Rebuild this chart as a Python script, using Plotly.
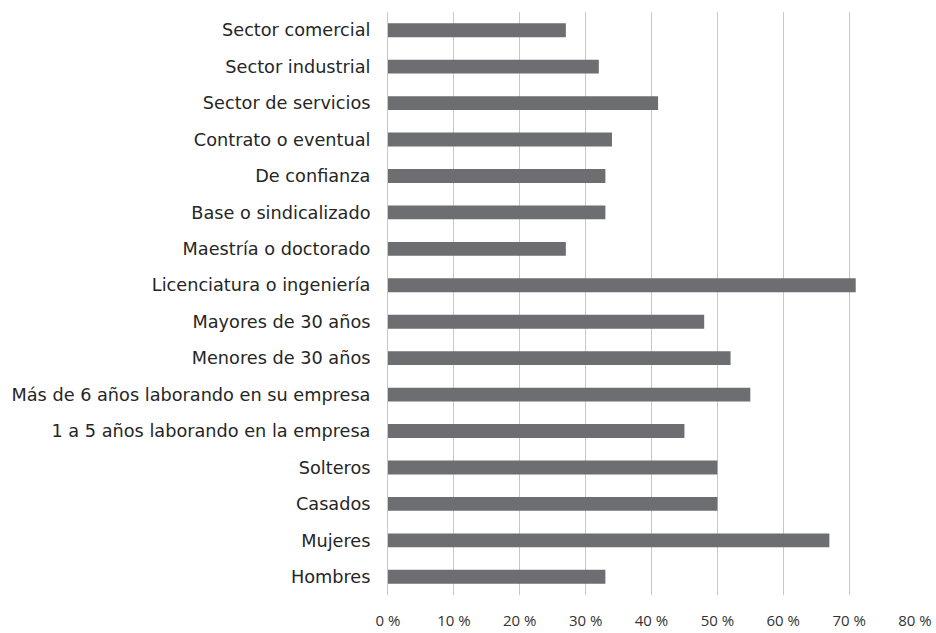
import plotly.graph_objects as go

# Categories listed bottom to top, as they appear on the y axis
categories = [
    "Hombres",
    "Mujeres",
    "Casados",
    "Solteros",
    "1 a 5 años laborando en la empresa",
    "Más de 6 años laborando en su empresa",
    "Menores de 30 años",
    "Mayores de 30 años",
    "Licenciatura o ingeniería",
    "Maestría o doctorado",
    "Base o sindicalizado",
    "De confianza",
    "Contrato o eventual",
    "Sector de servicios",
    "Sector industrial",
    "Sector comercial",
]
values = [33, 67, 50, 50, 45, 55, 52, 48, 71, 27, 33, 33, 34, 41, 32, 27]

tick_vals = [0, 10, 20, 30, 40, 50, 60, 70, 80]
tick_text = ["0 %", "10 %", "20 %", "30 %", "40 %", "50 %", "60 %", "70 %", "80 %"]

fig = go.Figure(
    go.Bar(
        x=values,
        y=categories,
        orientation="h",
        marker=dict(color="#6d6e71", line=dict(width=0)),
        width=0.38,
        hoverinfo="x+y",
    )
)

fig.update_layout(
    width=936,
    height=633,
    margin=dict(l=388, r=21, t=12, b=38),
    plot_bgcolor="white",
    paper_bgcolor="white",
    showlegend=False,
)

fig.update_xaxes(
    range=[0, 80],
    tickvals=tick_vals,
    ticktext=tick_text,
    showgrid=True,
    gridcolor="#c8c8c8",
    gridwidth=1,
    zeroline=False,
    showline=False,
    ticks="",
    ticklabelstandoff=15,
    tickfont=dict(family="Open Sans", size=15, color="#333333"),
    automargin=False,
)

fig.update_yaxes(
    categoryorder="array",
    categoryarray=categories,
    showgrid=False,
    zeroline=False,
    showline=True,
    linecolor="#c8c8c8",
    linewidth=1,
    ticks="",
    ticklabelstandoff=13,
    tickfont=dict(family="DejaVu Sans", size=17.7, color="#262626"),
    range=[-0.5, len(categories) - 0.5],
    automargin=False,
)

fig.write_html("out.html")
